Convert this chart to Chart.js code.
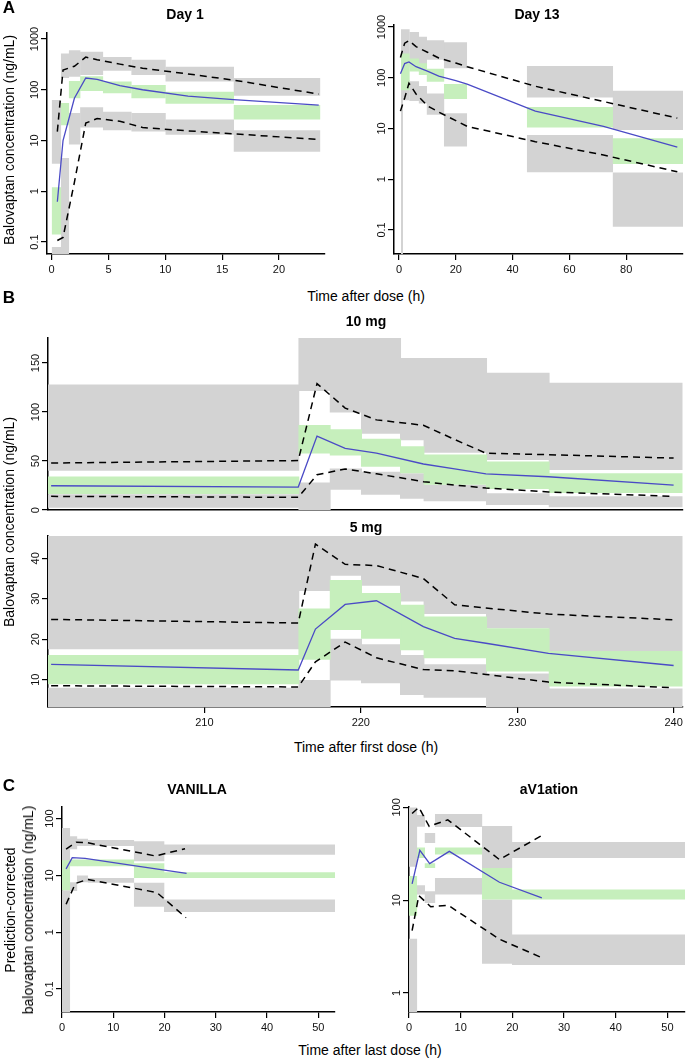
<!DOCTYPE html>
<html>
<head>
<meta charset="utf-8">
<script src="https://cdn.jsdelivr.net/npm/chart.js@4.4.0/dist/chart.umd.min.js"></script>
<style>
  body { margin: 0; background: #fff; }
  #page { position: relative; width: 686px; height: 1059px; overflow: hidden;
          font-family: "Liberation Sans", Arial, Helvetica, sans-serif; color: #000; }
  canvas { position: absolute; }
  .t { position: absolute; white-space: nowrap; transform: translate(-50%, -50%); }
  .ttl { font-weight: bold; font-size: 14px; }
  .let { font-weight: bold; font-size: 17px; }
  .ax { font-size: 14px; }
  .rot { transform: translate(-50%, -50%) rotate(-90deg); }
</style>
</head>
<body>
<div id="page">
  <div class="t let" style="left:9px;top:8px">A</div>
  <div class="t ttl" style="left:185px;top:14px">Day 1</div>
  <div class="t ttl" style="left:537px;top:14px">Day 13</div>
  <div class="t ax rot" style="left:9px;top:140px">Balovaptan concentration (ng/mL)</div>
  <div class="t ax" style="left:366px;top:296px">Time after dose (h)</div>

  <div class="t let" style="left:9px;top:298px">B</div>
  <div class="t ttl" style="left:366px;top:321px">10 mg</div>
  <div class="t ttl" style="left:366px;top:527px">5 mg</div>
  <div class="t ax rot" style="left:9px;top:522px">Balovaptan concentration (ng/mL)</div>
  <div class="t ax" style="left:366px;top:747px">Time after first dose (h)</div>

  <div class="t let" style="left:9px;top:786px">C</div>
  <div class="t ttl" style="left:197px;top:789px">VANILLA</div>
  <div class="t ttl" style="left:549px;top:789px">aV1ation</div>
  <div class="t ax rot" style="left:10px;top:910px">Prediction-corrected</div>
  <div class="t ax rot" style="left:28px;top:910px">balovaptan concentration (ng/mL)</div>
  <div class="t ax" style="left:370px;top:1050px">Time after last dose (h)</div>
</div>
<script>
// ---- A: Day 1 ----
const day1Bins = [[0, 0.8], [0.8, 1.5], [1.5, 2.5], [2.5, 4.5], [4.5, 7], [7, 10], [10, 16], [16, 23.6]];
const day1HiCI = [[3.5, 63], [170, 520], [180, 600], [195, 560], [237, 440], [195, 390], [145, 285], [76, 170]];
const day1MedCI = [[0.14, 1.2], [20, 55], [68, 148], [95, 185], [85, 145], [68, 124], [53, 91], [26, 50]];
const day1LoCI = [[0.04, 0.08], [0.05, 4.5], [8.3, 35], [18, 45], [16, 37], [15, 35], [13, 26], [6, 16]];
const day1Times = [0.5, 1, 2, 3, 4, 6, 8, 12, 16, 23.5];
const day1ObsMed = [0.62, 10, 68, 170, 160, 120, 100, 75, 64, 50];
const day1Obs95 = [15, 245, 290, 440, 390, 320, 265, 205, 155, 82];
const day1Obs05 = [0.107, 0.123, 1.5, 22, 27, 24, 18, 15.5, 13.5, 10.5];

// ---- A: Day 13 ----
const day13Bins = [[0.7, 3.6], [3.6, 6.9], [6.9, 9.7], [9.7, 15.8], [15.8, 23.8], [45, 75.2], [75.2, 99.9], [0.7, 1.2]];
const day13HiCI = [[165, 900], [160, 800], [154, 645], [225, 550], [154, 500], [41, 170], [9.3, 55.6], null];
const day13MedCI = [[57, 300], [132, 240], [113, 192], [83, 150], [38, 75], [10.5, 26.5], [2.0, 6.4], null];
const day13LoCI = [[36, 90], [35, 85], [31, 69], [18.7, 49], [4.4, 20], [1.37, 7.4], [0.116, 1.35], [0.03, 100]];
const day13Times = [0.5, 2, 3.5, 6, 10, 14, 20, 24, 48, 72, 98];
const day13ObsMed = [120, 190, 205, 165, 135, 108, 88, 75, 22, 11, 4.3];
const day13Obs95 = [250, 480, 540, 410, 318, 245, 195, 165, 68, 34, 16];
const day13Obs05 = [22, 40, 78, 48, 28, 21, 14.3, 11, 5.5, 3.0, 1.4];

// ---- B: multiple dose, 10 mg and 5 mg ----
const multiBins = [[200, 216], [216, 218], [218, 220], [220, 222.5], [222.5, 224], [224, 228], [228, 232], [232, 240.5]];
const mg10HiCI = [[40, 128], [121.5, 177], [99.6, 177], [77.9, 177], [71.1, 155], [58.4, 155], [51, 140], [40.9, 129.9]];
const mg10MedCI = [[16.4, 34.2], [57.7, 86.8], [55.6, 82.4], [44.3, 72.8], [37.5, 65], [25.8, 56.7], [21.6, 49.5], [17.4, 37.6]];
const mg10LoCI = [[2.5, 16.2], [0, 28.1], [20.8, 42.5], [15.7, 39.2], [11.6, 37.5], [9.1, 25.8], [5.3, 17.2], [3.0, 14.1]];
const mg10Times = [200.2, 216, 217.2, 219, 221, 224, 226, 228, 232, 240];
const mg10ObsMed = [24.8, 23.5, 75.5, 63, 58, 47, 42, 37, 34, 25.5];
const mg10Obs95 = [48, 50.5, 129, 104, 92, 86.5, 72, 58, 56.5, 53];
const mg10Obs05 = [14, 13, 36, 42, 37, 29, 25.5, 22.5, 18.5, 14];

const mg5HiCI = [[17.5, 46], [31.9, 46], [35.7, 46], [33.2, 46], [29.3, 46], [26.2, 46], [22.7, 46], [17.1, 46]];
const mg5MedCI = [[8.9, 16.1], [14.9, 27.6], [22.3, 34.6], [20.1, 31.4], [17.3, 28.5], [15.3, 25.6], [12.0, 22.7], [8.3, 17.1]];
const mg5LoCI = [[3, 8.0], [3, 9.95], [9.8, 20.1], [9.1, 18.75], [6.2, 16.1], [5.55, 13.8], [3, 11.5], [3, 7.8]];
const mg5Times = [200.2, 216, 217.1, 219, 221, 224, 226, 228, 232, 240];
const mg5ObsMed = [13.8, 12.4, 22.5, 28.6, 29.5, 23.1, 20.2, 19.0, 16.5, 13.5];
const mg5Obs95 = [24.9, 24, 43.5, 38.5, 38.2, 35, 28.5, 27.7, 26.2, 24.8];
const mg5Obs05 = [8.5, 8.2, 14.4, 19.3, 15.4, 12.5, 12.2, 11.3, 9.4, 8.0];

// ---- C: prediction-corrected, VANILLA and aV1ation ----
const vanBins = [[0, 1.5], [1.5, 2.9], [2.9, 5], [5, 14], [14, 19.9], [19.9, 53.3]];
const vanHiCI = [[18, 68], [29, 49], [33, 44], [33, 42], [17.7, 40], [23, 35]];
const vanMedCI = [[5.5, 18.5], [14.5, 19], [14.5, 19], [14.5, 19], [9, 16.3], [9, 11.4]];
const vanLoCI = [[0.039, 5.5], [5.3, 7.6], [7.6, 10], [7.4, 9], [2.8, 7.4], [2.27, 3.75]];
const vanObsMed = [[0.8, 13], [2, 20.5], [4.5, 20], [14, 14.8], [19, 12.8], [24.3, 10.9]];
const vanObs95 = [[0.8, 29], [2.8, 38.5], [5, 37.5], [18.2, 22], [24, 29.5]];
const vanObs05 = [[0.8, 3.1], [2.6, 7.2], [5, 8.5], [18.5, 5.0], [24.2, 1.8]];

const avBins = [[0, 1.5], [1.5, 3], [3, 5], [5, 14.1], [14.1, 19.9], [19.9, 53.4]];
const avHiCI = [[23, 100], [62, 83], [41.3, 53], [61.5, 85], [22.3, 63], [28.5, 42.4]];
const avMedCI = [[6.8, 18.2], [28.5, 37], [22.3, 25], [31, 37], [10.2, 22.3], [10.2, 13]];
const avLoCI = [[0.62, 3.84], [11.5, 14.5], [9.35, 12.5], [11.5, 17.4], [2.07, 10.2], [2.0, 4.28]];
const avObsMed = [[0.6, 15], [2.1, 34.5], [4, 24.8], [7.8, 33.6], [17.5, 15.6], [25.7, 10.6]];
const avObs95 = [[0.6, 86], [1.9, 100], [3.9, 62.5], [7.5, 73.5], [17.5, 27.4], [25.6, 49.5]];
const avObs05 = [[0.6, 4.7], [1.9, 11.2], [4.2, 8.5], [7.6, 8.8], [17.5, 3.8], [25.7, 2.4]];

// axis ticks
const day1XTicks = [0, 5, 10, 15, 20];
const day13XTicks = [0, 20, 40, 60, 80];
const multiXTicks = [210, 220, 230, 240];
const lastXTicks = [0, 10, 20, 30, 40, 50];
const logTicksA = [0.1, 1, 10, 100, 1000];
const logTicksVan = [0.1, 1, 10, 100];
const logTicksAv = [1, 10, 100];
const mg10YTicks = [0, 50, 100, 150];
const mg5YTicks = [10, 20, 30, 40];

const GRAY = '#d3d3d3';
const GREEN = '#c6efbc';
const BLUE = '#4a4ac6';
const FONT = '"Liberation Sans", Arial, Helvetica, sans-serif';
Chart.defaults.font.family = FONT;

const meas = document.createElement('canvas').getContext('2d');
meas.font = '11px ' + FONT;
const fmt = v => String(v);

// one filled dataset per interval box; 'pad' closes the anti-alias seam between neighbours
function boxes(bins, band, color, order, pad) {
  const out = [];
  bins.forEach((b, i) => {
    const r = band[i];
    if (!r) return;
    out.push({
      data: [{ x: b[0], y: r[1] }, { x: b[1] + pad, y: r[1] }],
      fill: { target: { value: r[0] } },
      backgroundColor: color, borderColor: 'rgba(0,0,0,0)', borderWidth: 0,
      pointRadius: 0, order: order
    });
  });
  return out;
}

function line(pts, color, dashed) {
  return {
    data: pts.map(p => ({ x: p[0], y: p[1] })),
    borderColor: color, borderWidth: dashed ? 1.5 : 1.3,
    borderDash: dashed ? [7, 5] : [], pointRadius: 0, fill: false, tension: 0, order: 0
  };
}
const zip = (xs, ys) => xs.map((x, i) => [x, ys[i]]);

function vpc(xs, bins, hi, med, lo, obsMed, obs95, obs05) {
  const pad = (xs.max - xs.min) * 0.002;
  return [
    ...boxes(bins, hi, GRAY, 3, pad), ...boxes(bins, lo, GRAY, 3, pad), ...boxes(bins, med, GREEN, 2, pad),
    line(obsMed, BLUE, false), line(obs95, '#000', true), line(obs05, '#000', true)
  ];
}

function panel(plot, xs, ys, datasets, showX) {
  const padT = 16, padR = 6, yW = 40, xH = showX ? 28 : 2;
  const w = plot[2] - plot[0] + yW + padR;
  const h = plot[3] - plot[1] + padT + xH;
  const cv = document.createElement('canvas');
  cv.width = w; cv.height = h;
  cv.style.left = (plot[0] - yW) + 'px';
  cv.style.top = (plot[1] - padT) + 'px';
  cv.style.width = w + 'px'; cv.style.height = h + 'px';
  const page = document.getElementById('page');
  page.insertBefore(cv, page.firstChild);

  const ylabels = ys.ticks.map(fmt);
  const widest = Math.max(...ylabels.map(l => meas.measureText(l).width));

  new Chart(cv, {
    type: 'line',
    data: { datasets },
    options: {
      responsive: false, animation: false, devicePixelRatio: 1,
      layout: { autoPadding: false, padding: { top: padT, right: padR, left: 0, bottom: 0 } },
      plugins: { legend: { display: false }, tooltip: { enabled: false } },
      scales: {
        x: {
          type: 'linear', min: xs.min, max: xs.max, bounds: 'data',
          afterBuildTicks: s => { s.ticks = xs.ticks.map(v => ({ value: v })); },
          afterFit: s => { s.height = xH; },
          border: { display: true, color: '#000', width: 1.5 },
          grid: { drawOnChartArea: false, drawTicks: showX, tickLength: 6, color: '#000', lineWidth: 1.2 },
          ticks: { display: showX, autoSkip: false, minRotation: 0, maxRotation: 0, padding: 3,
                   color: '#111', font: { size: 11 }, callback: (v, i) => fmt(xs.ticks[i]) }
        },
        y: {
          type: ys.type, min: ys.min, max: ys.max, bounds: 'data',
          afterBuildTicks: s => { s.ticks = ys.ticks.map(v => ({ value: v })); },
          afterFit: s => { s.width = yW; },
          border: { display: true, color: '#000', width: 1.5 },
          grid: { drawOnChartArea: false, drawTicks: true, tickLength: 6, color: '#000', lineWidth: 1.2 },
          ticks: { autoSkip: false, minRotation: 90, maxRotation: 90, crossAlign: 'center',
                   padding: 12.5 - 6 - widest / 2,
                   color: '#111', font: { size: 11 }, callback: (v, i) => ylabels[i] }
        }
      }
    }
  });
}

const day1X = { min: -0.41, max: 24.05, ticks: day1XTicks };
panel([47, 33, 325, 254], day1X,
  { type: 'logarithmic', min: 0.058, max: 1313, ticks: logTicksA },
  vpc(day1X, day1Bins, day1HiCI, day1MedCI, day1LoCI,
      zip(day1Times, day1ObsMed), zip(day1Times, day1Obs95), zip(day1Times, day1Obs05)), true);

const day13X = { min: -1.76, max: 100, ticks: day13XTicks };
panel([394, 25, 683, 254], day13X,
  { type: 'logarithmic', min: 0.0336, max: 1095, ticks: logTicksA },
  vpc(day13X, day13Bins, day13HiCI, day13MedCI, day13LoCI,
      zip(day13Times, day13ObsMed), zip(day13Times, day13Obs95), zip(day13Times, day13Obs05)), true);

const multiX = { min: 200, max: 240.6, ticks: multiXTicks };
panel([48, 338, 683, 512], multiX,
  { type: 'linear', min: 0, max: 175.5, ticks: mg10YTicks },
  vpc(multiX, multiBins, mg10HiCI, mg10MedCI, mg10LoCI,
      zip(mg10Times, mg10ObsMed), zip(mg10Times, mg10Obs95), zip(mg10Times, mg10Obs05)), false);

panel([48, 536, 683, 707], multiX,
  { type: 'linear', min: 3.25, max: 45.5, ticks: mg5YTicks },
  vpc(multiX, multiBins, mg5HiCI, mg5MedCI, mg5LoCI,
      zip(mg5Times, mg5ObsMed), zip(mg5Times, mg5Obs95), zip(mg5Times, mg5Obs05)), true);

const vanX = { min: 0, max: 53.25, ticks: lastXTicks };
panel([62, 807, 335, 1012], vanX,
  { type: 'logarithmic', min: 0.0394, max: 160, ticks: logTicksVan },
  vpc(vanX, vanBins, vanHiCI, vanMedCI, vanLoCI, vanObsMed, vanObs95, vanObs05), true);

const avX = { min: 0, max: 53.4, ticks: lastXTicks };
panel([409, 807, 685, 1012], avX,
  { type: 'logarithmic', min: 0.624, max: 101, ticks: logTicksAv },
  vpc(avX, avBins, avHiCI, avMedCI, avLoCI, avObsMed, avObs95, avObs05), true);
</script>
</body>
</html>
